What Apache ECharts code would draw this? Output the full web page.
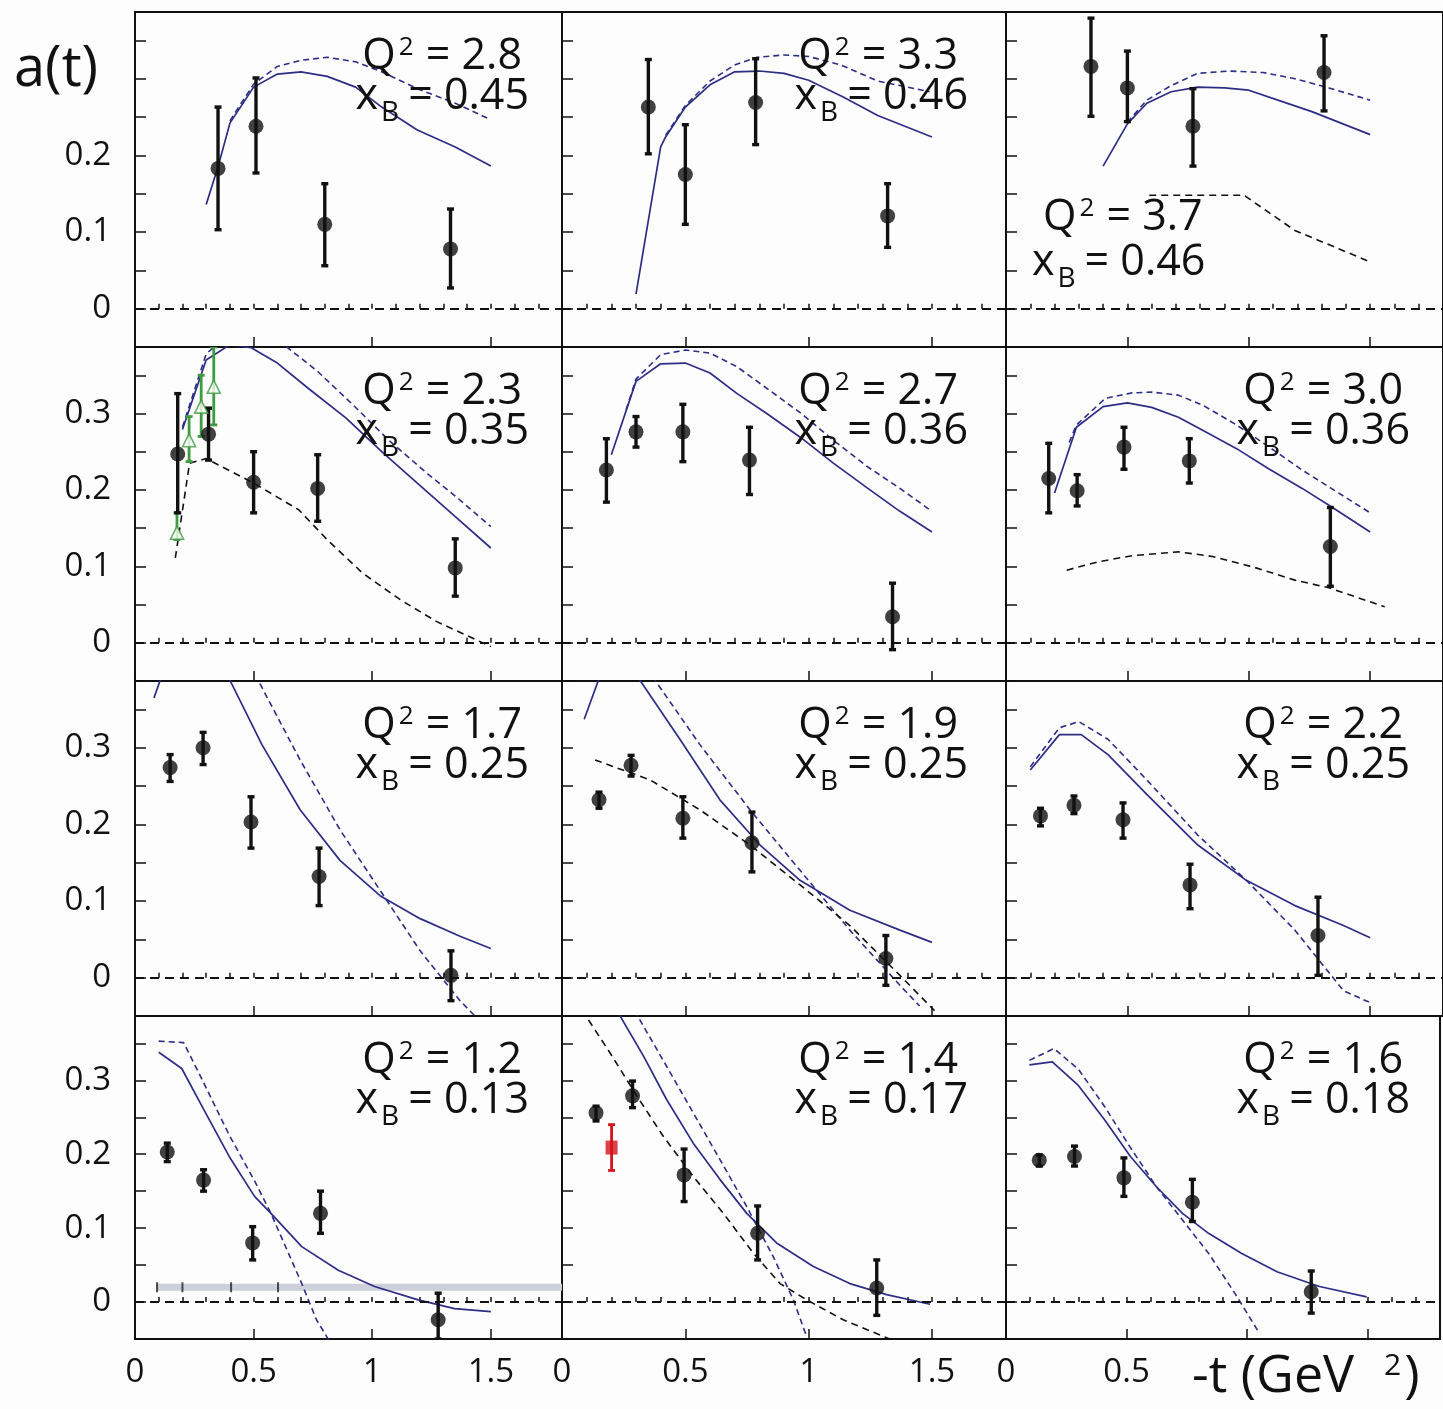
<!DOCTYPE html>
<html>
<head>
<meta charset="utf-8">
<title>a(t) vs -t</title>
<script src="https://cdn.jsdelivr.net/npm/echarts@6/dist/echarts.min.js"></script>
<style>
  html, body { margin: 0; padding: 0; background: #fdfdfd; }
  #main { width: 1443px; height: 1409px; }
</style>
</head>
<body>
<div id="main"></div>
<script>
var FONT = '"Open Sans", "Noto Sans", "DejaVu Sans", sans-serif';
var BLUE = '#2d2d86';
var INK = '#111111';

// Q^2 and x_B of each panel, row by row
var q2Values = ['2.8', '3.3', '3.7', '2.3', '2.7', '3.0', '1.7', '1.9', '2.2', '1.2', '1.4', '1.6'];
var xbValues = ['0.45', '0.46', '0.46', '0.35', '0.36', '0.36', '0.25', '0.25', '0.25', '0.13', '0.17', '0.18'];

// data points: [-t, a(t), low, high]
var pts28 = [[0.35, 0.183, 0.103, 0.263], [0.51, 0.238, 0.177, 0.301], [0.80, 0.110, 0.056, 0.163], [1.33, 0.078, 0.027, 0.130]];
var pts33 = [[0.35, 0.263, 0.202, 0.325], [0.50, 0.175, 0.110, 0.240], [0.785, 0.269, 0.214, 0.326], [1.32, 0.121, 0.080, 0.163]];
var pts37 = [[0.35, 0.316, 0.251, 0.379], [0.50, 0.288, 0.244, 0.336], [0.77, 0.238, 0.186, 0.287], [1.31, 0.308, 0.258, 0.356]];
var pts23 = [[0.18, 0.247, 0.170, 0.326], [0.31, 0.273, 0.239, 0.307], [0.50, 0.210, 0.170, 0.250], [0.77, 0.202, 0.159, 0.246], [1.35, 0.098, 0.061, 0.136]];
var pts27 = [[0.18, 0.226, 0.184, 0.267], [0.30, 0.276, 0.256, 0.296], [0.49, 0.276, 0.237, 0.312], [0.76, 0.239, 0.194, 0.282], [1.34, 0.034, -0.009, 0.078]];
var pts30 = [[0.176, 0.215, 0.170, 0.261], [0.293, 0.199, 0.179, 0.220], [0.486, 0.256, 0.227, 0.282], [0.755, 0.238, 0.209, 0.267], [1.336, 0.126, 0.074, 0.177]];
var pts17 = [[0.148, 0.274, 0.256, 0.291], [0.287, 0.300, 0.278, 0.320], [0.489, 0.203, 0.169, 0.236], [0.776, 0.132, 0.094, 0.169], [1.332, 0.003, -0.030, 0.035]];
var pts19 = [[0.150, 0.232, 0.221, 0.242], [0.280, 0.277, 0.263, 0.290], [0.490, 0.208, 0.182, 0.236], [0.770, 0.176, 0.138, 0.216], [1.313, 0.025, -0.010, 0.055]];
var pts22 = [[0.142, 0.211, 0.198, 0.221], [0.280, 0.225, 0.214, 0.237], [0.482, 0.206, 0.182, 0.228], [0.758, 0.121, 0.090, 0.148], [1.285, 0.055, 0.003, 0.105]];
var pts12 = [[0.136, 0.203, 0.190, 0.215], [0.289, 0.165, 0.150, 0.179], [0.496, 0.080, 0.057, 0.102], [0.782, 0.120, 0.093, 0.150], [1.278, -0.024, -0.05, 0.012]];
var pts14 = [[0.138, 0.256, 0.245, 0.265], [0.286, 0.279, 0.263, 0.299], [0.495, 0.172, 0.136, 0.207], [0.793, 0.093, 0.057, 0.130], [1.276, 0.019, -0.018, 0.057]];
var pts16 = [[0.138, 0.192, 0.184, 0.199], [0.284, 0.197, 0.184, 0.211], [0.489, 0.168, 0.143, 0.195], [0.773, 0.135, 0.109, 0.166], [1.266, 0.014, -0.015, 0.042]];

// other data sets (open triangles, red square) with the same layout
var green23 = [[0.177, 0.144, 0.135, 0.170], [0.228, 0.265, 0.237, 0.296], [0.279, 0.309, 0.270, 0.350], [0.332, 0.335, 0.285, 0.387]];
var red14 = [[0.201, 0.209, 0.178, 0.240]];

// systematic band of the Q2=1.2 panel
var band12 = [[0.09, 0.02], [1.8, 0.02]];
var bandTicks12 = [[0.093, 0.02], [0.20, 0.02], [0.405, 0.02], [0.603, 0.02]];

// model curves: solid blue, dashed blue, dashed black
var solid28 = [[0.30, 0.136], [0.35, 0.185], [0.40, 0.242], [0.50, 0.289], [0.60, 0.306], [0.70, 0.309], [0.81, 0.303], [0.93, 0.289], [1.04, 0.263], [1.19, 0.233], [1.35, 0.211], [1.50, 0.186]];
var dash28 = [[0.40, 0.245], [0.50, 0.293], [0.60, 0.316], [0.70, 0.324], [0.81, 0.328], [0.93, 0.322], [1.04, 0.309], [1.19, 0.287], [1.35, 0.268], [1.49, 0.248]];

var solid33 = [[0.30, 0.019], [0.40, 0.211], [0.42, 0.224], [0.50, 0.263], [0.60, 0.292], [0.70, 0.309], [0.80, 0.310], [0.90, 0.307], [1.00, 0.298], [1.14, 0.276], [1.28, 0.252], [1.50, 0.224]];
var dash33 = [[0.42, 0.226], [0.50, 0.265], [0.60, 0.297], [0.70, 0.318], [0.79, 0.328], [0.90, 0.331], [1.00, 0.329], [1.13, 0.318], [1.28, 0.297], [1.49, 0.283]];

var solid37 = [[0.40, 0.186], [0.50, 0.241], [0.58, 0.268], [0.68, 0.283], [0.79, 0.289], [0.90, 0.288], [1.00, 0.285], [1.12, 0.272], [1.26, 0.257], [1.50, 0.227]];
var dash37 = [[0.50, 0.243], [0.58, 0.272], [0.68, 0.291], [0.79, 0.307], [0.92, 0.310], [1.06, 0.308], [1.19, 0.300], [1.33, 0.288], [1.50, 0.272]];
var black37 = [[0.59, 0.148], [0.98, 0.148], [1.19, 0.102], [1.50, 0.061]];

var solid23 = [[0.20, 0.279], [0.30, 0.370], [0.40, 0.390], [0.49, 0.386], [0.60, 0.366], [0.73, 0.333], [0.89, 0.294], [1.04, 0.250], [1.19, 0.209], [1.35, 0.165], [1.50, 0.124]];
var dash23 = [[0.20, 0.282], [0.30, 0.378], [0.40, 0.405], [0.52, 0.410], [0.64, 0.387], [0.77, 0.355], [0.92, 0.311], [1.07, 0.265], [1.23, 0.222], [1.35, 0.192], [1.50, 0.152]];
var black23 = [[0.17, 0.111], [0.23, 0.235], [0.30, 0.241], [0.50, 0.209], [0.69, 0.174], [0.81, 0.135], [0.96, 0.091], [1.12, 0.056], [1.27, 0.028], [1.50, -0.005]];

var solid27 = [[0.20, 0.246], [0.30, 0.342], [0.40, 0.365], [0.50, 0.366], [0.60, 0.353], [0.71, 0.326], [0.83, 0.300], [0.97, 0.268], [1.10, 0.235], [1.24, 0.202], [1.37, 0.172], [1.50, 0.145]];
var dash27 = [[0.26, 0.305], [0.30, 0.345], [0.40, 0.377], [0.50, 0.383], [0.60, 0.379], [0.71, 0.361], [0.83, 0.333], [0.97, 0.300], [1.10, 0.265], [1.24, 0.230], [1.37, 0.202], [1.50, 0.172]];

var solid30 = [[0.20, 0.196], [0.29, 0.282], [0.40, 0.309], [0.50, 0.314], [0.60, 0.308], [0.71, 0.295], [0.81, 0.278], [0.95, 0.254], [1.08, 0.228], [1.22, 0.202], [1.34, 0.178], [1.50, 0.145]];
var dash30 = [[0.26, 0.262], [0.29, 0.285], [0.41, 0.320], [0.52, 0.327], [0.60, 0.328], [0.71, 0.324], [0.81, 0.311], [0.95, 0.285], [1.08, 0.257], [1.22, 0.226], [1.34, 0.202], [1.50, 0.170]];
var black30 = [[0.25, 0.095], [0.38, 0.106], [0.52, 0.114], [0.71, 0.119], [0.85, 0.113], [1.03, 0.098], [1.19, 0.082], [1.33, 0.072], [1.56, 0.047]];

var solid17 = [[0.08, 0.365], [0.12, 0.400], [0.20, 0.440], [0.30, 0.430], [0.40, 0.388], [0.535, 0.304], [0.696, 0.219], [0.864, 0.153], [1.033, 0.107], [1.202, 0.077], [1.37, 0.054], [1.50, 0.038]];
var dash17 = [[0.45, 0.430], [0.519, 0.388], [0.696, 0.284], [0.864, 0.193], [1.033, 0.114], [1.202, 0.035], [1.37, -0.030], [1.433, -0.050]];

var solid19 = [[0.09, 0.337], [0.15, 0.390], [0.22, 0.420], [0.316, 0.388], [0.478, 0.311], [0.640, 0.232], [0.803, 0.173], [0.965, 0.127], [1.167, 0.088], [1.37, 0.062], [1.50, 0.046]];
var dash19 = [[0.30, 0.440], [0.377, 0.388], [0.559, 0.304], [0.762, 0.219], [0.965, 0.140], [1.167, 0.062], [1.37, -0.010], [1.45, -0.037]];
var black19 = [[0.134, 0.284], [0.357, 0.258], [0.559, 0.219], [0.762, 0.173], [0.965, 0.121], [1.167, 0.068], [1.37, 0.003], [1.51, -0.043]];

var solid22 = [[0.10, 0.271], [0.22, 0.317], [0.31, 0.317], [0.42, 0.291], [0.58, 0.239], [0.79, 0.173], [0.99, 0.127], [1.19, 0.094], [1.39, 0.068], [1.50, 0.052]];
var dash22 = [[0.10, 0.275], [0.22, 0.326], [0.30, 0.334], [0.42, 0.311], [0.58, 0.258], [0.79, 0.186], [0.99, 0.127], [1.19, 0.062], [1.39, -0.017], [1.51, -0.034]];

var solid12 = [[0.10, 0.338], [0.197, 0.316], [0.289, 0.261], [0.397, 0.197], [0.504, 0.143], [0.573, 0.120], [0.703, 0.075], [0.857, 0.043], [1.01, 0.021], [1.194, 0.003], [1.347, -0.009], [1.50, -0.013]];
var dash12 = [[0.10, 0.353], [0.205, 0.351], [0.289, 0.297], [0.397, 0.226], [0.504, 0.164], [0.573, 0.120], [0.703, 0.025], [0.765, -0.024], [0.818, -0.052]];

var solid14 = [[0.20, 0.420], [0.232, 0.389], [0.330, 0.333], [0.424, 0.274], [0.532, 0.215], [0.640, 0.166], [0.749, 0.120], [0.870, 0.080], [1.019, 0.048], [1.167, 0.025], [1.316, 0.010], [1.492, -0.003]];
var dash14 = [[0.27, 0.420], [0.303, 0.389], [0.424, 0.319], [0.532, 0.256], [0.640, 0.193], [0.749, 0.129], [0.857, 0.061], [0.938, 0.003], [0.992, -0.047]];
var black14 = [[0.06, 0.410], [0.093, 0.389], [0.195, 0.337], [0.303, 0.279], [0.411, 0.224], [0.532, 0.170], [0.654, 0.120], [0.776, 0.066], [0.884, 0.025], [0.992, 0.003], [1.140, -0.024], [1.343, -0.052]];

var solid16 = [[0.097, 0.321], [0.192, 0.325], [0.300, 0.293], [0.408, 0.247], [0.516, 0.197], [0.624, 0.156], [0.732, 0.120], [0.840, 0.093], [0.976, 0.066], [1.124, 0.041], [1.300, 0.021], [1.496, 0.007]];
var dash16 = [[0.097, 0.327], [0.199, 0.343], [0.300, 0.315], [0.408, 0.265], [0.516, 0.209], [0.624, 0.156], [0.732, 0.111], [0.840, 0.066], [0.949, 0.012], [1.043, -0.038]];

var panels = [
    {pts: pts28, solid: solid28, dash: dash28},
    {pts: pts33, solid: solid33, dash: dash33},
    {pts: pts37, solid: solid37, dash: dash37, black: black37},
    {pts: pts23, solid: solid23, dash: dash23, black: black23, green: green23},
    {pts: pts27, solid: solid27, dash: dash27},
    {pts: pts30, solid: solid30, dash: dash30, black: black30},
    {pts: pts17, solid: solid17, dash: dash17},
    {pts: pts19, solid: solid19, dash: dash19, black: black19},
    {pts: pts22, solid: solid22, dash: dash22},
    {pts: pts12, solid: solid12, dash: dash12, band: band12, bandTicks: bandTicks12},
    {pts: pts14, solid: solid14, dash: dash14, black: black14, red: red14},
    {pts: pts16, solid: solid16, dash: dash16}
];

// panel frame geometry (px)
var colLeft = [135, 562, 1006];
var colWidth = [427, 444, 444];
var rowTop = [12, 347, 681, 1016];
var rowHeight = [335, 334, 335, 323];

function errBars(color, width) {
    return function (params, api) {
        var x = api.value(0);
        var a = api.coord([x, api.value(3)]);
        var b = api.coord([x, api.value(2)]);
        var st = {stroke: color, lineWidth: width};
        return {
            type: 'group',
            children: [
                {type: 'line', shape: {x1: a[0], y1: a[1], x2: b[0], y2: b[1]}, style: st},
                {type: 'line', shape: {x1: a[0] - 3.5, y1: a[1], x2: a[0] + 3.5, y2: a[1]}, style: st},
                {type: 'line', shape: {x1: b[0] - 3.5, y1: b[1], x2: b[0] + 3.5, y2: b[1]}, style: st}
            ]
        };
    };
}

var grids = [], xAxes = [], yAxes = [], series = [], graphics = [];

panels.forEach(function (p, i) {
    var row = Math.floor(i / 3), col = i % 3;
    var xi = 2 * i, yi = i;
    grids.push({
        left: colLeft[col], top: rowTop[row], width: colWidth[col], height: rowHeight[row],
        show: true, borderColor: INK, borderWidth: 2, backgroundColor: 'transparent'
    });
    xAxes.push({
        gridIndex: i, type: 'value', position: 'bottom', min: 0, max: 1.8, interval: 0.1,
        axisLine: {show: false},
        axisTick: {inside: true, length: 5, lineStyle: {color: INK, width: 1.5}},
        splitLine: {show: false},
        axisLabel: {
            show: row === 3, margin: 17, color: INK, fontSize: 33, fontFamily: FONT,
            formatter: function (v) {
                var k = Math.round(v * 10);
                if (Math.abs(v * 10 - k) > 1e-6 || k % 5 !== 0) return '';
                if (col === 2 && k > 5) return '';
                return String(k / 10);
            }
        }
    });
    xAxes.push({
        gridIndex: i, type: 'value', position: 'bottom', min: 0, max: 1.8, interval: 0.5,
        axisLine: {show: false},
        axisTick: {inside: true, length: 10, lineStyle: {color: INK, width: 1.5}},
        axisLabel: {show: false}, splitLine: {show: false}
    });
    yAxes.push({
        gridIndex: i, type: 'value', min: -0.05, max: 0.387, interval: 0.05,
        axisLine: {show: false},
        axisTick: {inside: true, length: 11, lineStyle: {color: INK, width: 1.5}},
        splitLine: {show: false},
        axisLabel: {
            show: col === 0, margin: 24, color: INK, fontSize: 33, fontFamily: FONT,
            formatter: function (v) {
                var k = Math.round(v * 100);
                if (k < 0 || k % 10 !== 0 || Math.abs(v * 100 - k) > 1e-6) return '';
                if (row === 0 && k === 30) return '';
                return k === 0 ? '0' : String(k / 100);
            }
        }
    });

    if (p.band) {
        series.push({
            type: 'line', xAxisIndex: xi, yAxisIndex: yi, data: p.band, symbol: 'none', silent: true,
            lineStyle: {color: '#cdcfdb', width: 7}, z: 1
        });
        series.push({
            type: 'scatter', xAxisIndex: xi, yAxisIndex: yi, data: p.bandTicks, silent: true,
            symbol: 'rect', symbolSize: [2, 10], itemStyle: {color: '#222'}, z: 2
        });
    }
    series.push({
        type: 'line', xAxisIndex: xi, yAxisIndex: yi, data: p.solid, symbol: 'none', silent: true,
        lineStyle: {color: BLUE, width: 1.7}, z: 3
    });
    series.push({
        type: 'line', xAxisIndex: xi, yAxisIndex: yi, data: p.dash, symbol: 'none', silent: true,
        lineStyle: {color: BLUE, width: 1.6, type: [6, 4]}, z: 3
    });
    if (p.black) {
        series.push({
            type: 'line', xAxisIndex: xi, yAxisIndex: yi, data: p.black, symbol: 'none', silent: true,
            lineStyle: {color: INK, width: 1.6, type: [7, 5]}, z: 3
        });
    }
    if (p.green) {
        series.push({
            type: 'custom', xAxisIndex: xi, yAxisIndex: yi, data: p.green, clip: true, silent: true,
            renderItem: errBars('#3f9b3f', 2.8), z: 4
        });
        series.push({
            type: 'scatter', xAxisIndex: xi, yAxisIndex: yi, silent: true,
            data: p.green.map(function (d) { return [d[0], d[1]]; }),
            symbol: 'triangle', symbolSize: 13,
            itemStyle: {color: '#fdfdfd', borderColor: '#3f9b3f', borderWidth: 1.6}, z: 5
        });
    }
    if (p.red) {
        series.push({
            type: 'custom', xAxisIndex: xi, yAxisIndex: yi, data: p.red, clip: true, silent: true,
            renderItem: errBars('#d3141c', 2.8), z: 4
        });
        series.push({
            type: 'scatter', xAxisIndex: xi, yAxisIndex: yi, silent: true,
            data: p.red.map(function (d) { return [d[0], d[1]]; }),
            symbol: 'rect', symbolSize: [12, 14], itemStyle: {color: '#d3141c'}, z: 5
        });
    }
    series.push({
        type: 'custom', xAxisIndex: xi, yAxisIndex: yi, data: p.pts, clip: true, silent: true,
        renderItem: errBars(INK, 3.4), z: 4
    });
    series.push({
        type: 'scatter', xAxisIndex: xi, yAxisIndex: yi, silent: true,
        data: p.pts.map(function (d) { return [d[0], d[1]]; }),
        symbol: 'circle', symbolSize: 15, itemStyle: {color: INK}, z: 5,
        markLine: {
            silent: true, symbol: 'none', label: {show: false},
            lineStyle: {color: INK, width: 2, type: [9, 6]},
            data: [{yAxis: 0}]
        }
    });

    // Q^2 / x_B annotation
    var right = colLeft[col] + colWidth[col];
    var qx = right - [40, 48, 47][col], bx = right - [33, 38, 40][col];
    var qy = rowTop[row] + 47, by = rowTop[row] + 87;
    var alignTxt = 'right';
    if (i === 2) { qx = 1043; bx = 1032; qy = 220; by = 265; alignTxt = 'left'; }
    graphics.push({
        type: 'text', x: qx, y: qy, silent: true, z: 10,
        style: {
            text: '{m|Q}{s|2}{m| = ' + q2Values[i] + '}',
            align: alignTxt, verticalAlign: 'middle',
            rich: {
                m: {fontSize: 43, fontFamily: FONT, fill: INK, lineHeight: 48, verticalAlign: 'top'},
                s: {fontSize: 26, fontFamily: FONT, fill: INK, lineHeight: 24, verticalAlign: 'top', padding: [0, 1, 0, 3]}
            }
        }
    });
    graphics.push({
        type: 'text', x: bx, y: by, silent: true, z: 10,
        style: {
            text: '{m|x}{b|B}{m|= ' + xbValues[i] + '}',
            align: alignTxt, verticalAlign: 'middle',
            rich: {
                m: {fontSize: 43, fontFamily: FONT, fill: INK, lineHeight: 48, verticalAlign: 'top'},
                b: {fontSize: 28, fontFamily: FONT, fill: INK, lineHeight: 28, verticalAlign: 'top', padding: [24, 9, 0, 3]}
            }
        }
    });
});

graphics.push({
    type: 'text', x: 14, y: 70, silent: true,
    style: {text: 'a(t)', font: '56px ' + FONT, fill: INK, align: 'left', verticalAlign: 'middle'}
});
graphics.push({
    type: 'text', x: 1192, y: 1380, silent: true,
    style: {
        text: '{m|-t (GeV}{s|2}{m|)}',
        align: 'left', verticalAlign: 'middle',
        rich: {
            m: {fontSize: 52, fontFamily: FONT, fill: INK, lineHeight: 58, verticalAlign: 'top'},
            s: {fontSize: 30, fontFamily: FONT, fill: INK, lineHeight: 30, verticalAlign: 'top', padding: [0, 3, 0, 30]}
        }
    }
});

var chart = echarts.init(document.getElementById('main'), null, {renderer: 'canvas'});
chart.setOption({
    backgroundColor: '#fdfdfd',
    animation: false,
    grid: grids,
    xAxis: xAxes,
    yAxis: yAxes,
    series: series,
    graphic: graphics
});
</script>
</body>
</html>
